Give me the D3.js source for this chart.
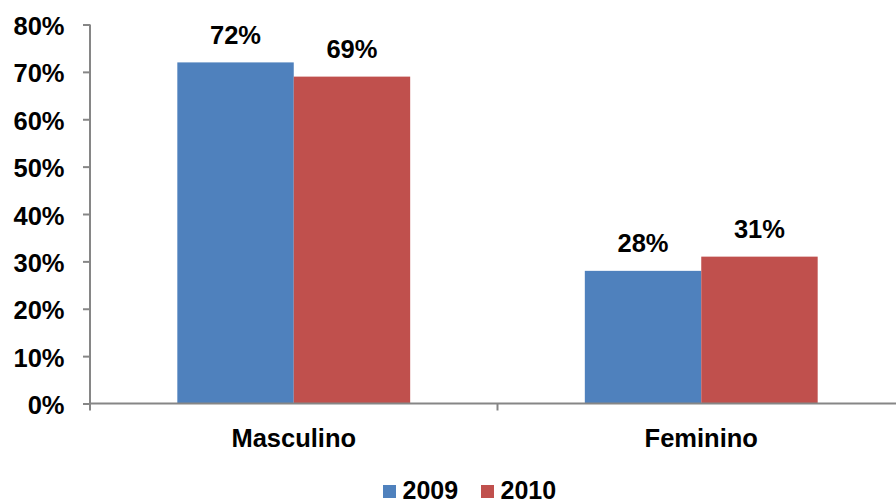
<!DOCTYPE html>
<html><head><meta charset="utf-8">
<script src="https://cdn.jsdelivr.net/npm/d3@7"></script>
<style>body{margin:0;background:#fff}svg{display:block}text{font-family:"Liberation Sans",Arial,sans-serif;font-weight:bold;fill:#000}</style>
</head><body>
<script>
const categories = ["Masculino", "Feminino"];
const seriesNames = ["2009", "2010"];
const values2009 = [0.72, 0.28];
const values2010 = [0.69, 0.31];
const yTicks = [0, 0.1, 0.2, 0.3, 0.4, 0.5, 0.6, 0.7, 0.8];
const colors = ["#4F81BD", "#C0504D"];

const W = 896, H = 504;
const svg = d3.select("body").append("svg").attr("width", W).attr("height", H);
const pLeft = 90, pRight = 905, pTop = 24.5, pBottom = 403.5;
const fs = 25.5;
const y = d3.scaleLinear().domain([0, 0.8]).range([pBottom, pTop]);
const x0 = d3.scaleBand().domain(categories).range([pLeft, pRight]).padding(0);
const x1 = d3.scaleBand().domain(seriesNames).range([0, x0.bandwidth()]).paddingInner(0).paddingOuter(0.75);
const series = [values2009, values2010];

// bars
seriesNames.forEach((s, si) => {
  svg.append("g").selectAll("rect").data(categories).join("rect")
    .attr("x", c => x0(c) + x1(s))
    .attr("y", (c, i) => y(series[si][i]))
    .attr("width", x1.bandwidth())
    .attr("height", (c, i) => pBottom - y(series[si][i]))
    .attr("fill", colors[si]);
  svg.append("g").selectAll("text").data(categories).join("text")
    .attr("x", c => x0(c) + x1(s) + x1.bandwidth()/2)
    .attr("y", (c, i) => y(series[si][i]) - 18.5)
    .attr("text-anchor", "middle").attr("font-size", fs)
    .text((c, i) => Math.round(series[si][i]*100) + "%");
});

// y axis
const ya = svg.append("g").attr("transform", `translate(${pLeft},0)`)
  .call(d3.axisLeft(y).tickValues(yTicks).tickSize(7).tickFormat(d3.format(".0%")));
ya.select(".domain").attr("stroke", "#868686").attr("stroke-width", 2).attr("d", `M0,${pTop}V${pBottom}`);
ya.selectAll(".tick line").attr("stroke", "#868686").attr("stroke-width", 2);
ya.selectAll(".tick text").attr("font-size", fs).attr("font-family", "Liberation Sans, Arial, sans-serif").attr("font-weight", "bold").attr("fill", "#000")
  .attr("x", -25.5).attr("dy", null).attr("y", 10).attr("text-anchor", "end");

// x axis
const xa = svg.append("g").attr("transform", `translate(0,${pBottom})`);
xa.append("line").attr("x1", pLeft).attr("x2", W).attr("stroke", "#868686").attr("stroke-width", 2);
const bounds = [pLeft, x0(categories[1]), pRight];
xa.selectAll(".tk").data(bounds).join("line").attr("class", "tk")
  .attr("x1", d => d).attr("x2", d => d).attr("y1", 0).attr("y2", 7)
  .attr("stroke", "#868686").attr("stroke-width", 2);
xa.selectAll(".cl").data(categories).join("text").attr("class", "cl")
  .attr("x", c => x0(c) + x0.bandwidth()/2).attr("y", 43)
  .attr("text-anchor", "middle").attr("font-size", fs).text(c => c);

// legend
const lg = svg.append("g");
const lx = [383, 481];
seriesNames.forEach((s, i) => {
  lg.append("rect").attr("x", lx[i]).attr("y", 485).attr("width", 13).attr("height", 13).attr("fill", colors[i]);
  lg.append("text").attr("x", lx[i] + 19.5).attr("y", 498.5).attr("font-size", 25).text(s);
});
</script>
</body></html>
